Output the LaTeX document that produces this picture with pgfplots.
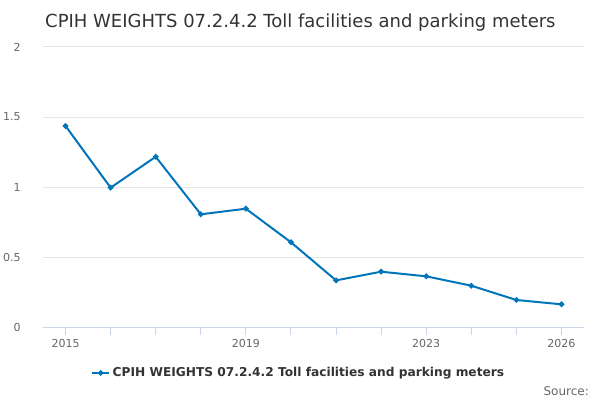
\documentclass[border=0pt]{standalone}
\usepackage{pgfplots}
\pgfplotsset{compat=1.18}
\usepackage{fontspec}
\setmainfont{DejaVu Sans}
\definecolor{lineblue}{RGB}{0,117,185}
\definecolor{gridgray}{RGB}{230,230,230}
\definecolor{axisblue}{RGB}{204,214,235}
\definecolor{ticktext}{RGB}{102,102,102}
\definecolor{titletext}{RGB}{51,51,51}
\begin{document}
\begin{tikzpicture}[x=1bp,y=1bp]
\path[use as bounding box] (0,0) rectangle (600,400);
\node[anchor=base west, text=titletext, font=\fontsize{18bp}{21bp}\selectfont, inner sep=0pt] at (45,373) {CPIH WEIGHTS 07.2.4.2 Toll facilities and parking meters};
\node[anchor=base east, text=ticktext, font=\fontsize{12bp}{14bp}\selectfont, inner sep=0pt] at (589,5) {Source:};
\begin{axis}[
  at={(43bp,73bp)}, anchor=south west,
  scale only axis, width=541bp, height=280bp,
  xmin=2014.5, xmax=2026.5, ymin=0, ymax=2,
  axis line style={draw=none},
  axis x line*=bottom,
  x axis line style={draw=axisblue, line width=1bp},
  axis y line*=left,
  y axis line style={draw=none},
  xtick={2015,...,2026},
  xticklabels={2015,,,,2019,,,,2023,,,2026},
  ytick={0,0.5,1,1.5,2},
  yticklabels={0,0.5,1,1.5,2},
  tick align=outside,
  major tick length=8bp,
  xtick style={draw=axisblue, line width=1bp},
  ytick style={draw=none},
  ymajorgrids, grid style={draw=gridgray, line width=1bp},
  /pgf/number format/assume math mode=true,
  tick label style={text=ticktext, font=\fontsize{11bp}{13bp}\selectfont},
  yticklabel style={anchor=east, xshift=-11bp},
  xticklabel style={anchor=north, yshift=-1bp},
  legend style={at={(0.473,-0.164)}, anchor=center, draw=none, fill=none,
    font=\bfseries\fontsize{12.2bp}{15bp}\selectfont, text=titletext, inner sep=0pt,
    nodes={inner xsep=2.5bp, inner ysep=0pt}},
  legend image code/.code={\draw[#1, mark=none] (0bp,0bp) -- (17bp,0bp); \draw[#1] plot coordinates {(8.5bp,0bp)};},
  legend cell align=left,
  clip=false,
]
\addplot[color=lineblue, line width=2bp, mark=*, mark size=1.7bp, mark options={solid}]
coordinates {
(2015,1.436) (2016,0.995) (2017,1.216) (2018,0.805) (2019,0.845) (2020,0.605)
(2021,0.333) (2022,0.395) (2023,0.362) (2024,0.295) (2025,0.193) (2026,0.162)
};
\addlegendentry{CPIH WEIGHTS 07.2.4.2 Toll facilities and parking meters}
\end{axis}
\end{tikzpicture}
\end{document}
